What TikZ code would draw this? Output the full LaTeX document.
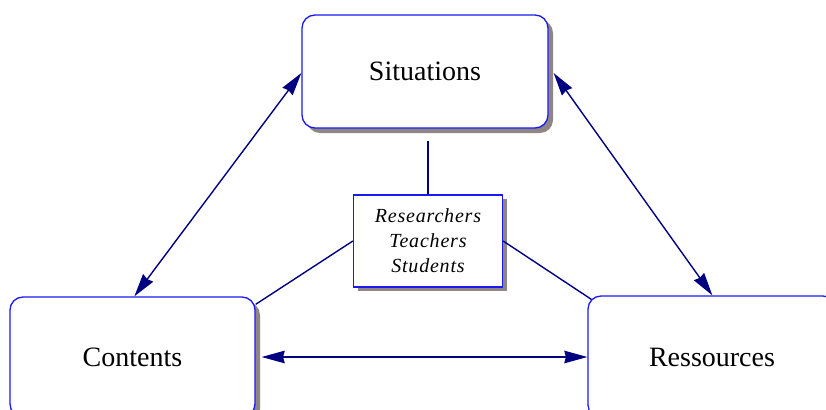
\documentclass[tikz,border=0pt]{standalone}
\usepackage{fontspec}
\setmainfont{Liberation Serif}
\usetikzlibrary{arrows.meta,shadows}
\definecolor{boxblue}{HTML}{1A1AF0}
\definecolor{linknavy}{HTML}{000080}
\definecolor{shadowgray}{HTML}{8E8585}
\tikzset{
  bigbox/.style={draw=boxblue, line width=1.3pt, fill=white, rounded corners=13pt,
    font=\fontsize{28}{31}\selectfont,
    drop shadow={shadow xshift=5pt, shadow yshift=-5pt, fill=shadowgray, opacity=1}},
  rolebox/.style={draw=boxblue, line width=1.3pt, fill=white, align=center,
    font=\fontsize{20}{25}\selectfont\itshape\addfontfeatures{LetterSpace=4},
    drop shadow={shadow xshift=4pt, shadow yshift=-4pt, fill=shadowgray, opacity=1}},
  link/.style={draw=linknavy, line width=1.4pt},
  twoway/.style={link, {Stealth[length=23pt,width=12.5pt,inset=1.5pt]}-{Stealth[length=23pt,width=12.5pt,inset=1.5pt]}}
}
\begin{document}
\begin{tikzpicture}[x=1pt,y=-1pt]
  \useasboundingbox (0,0) rectangle (826,409);
  % the three poles of the triangle
  \node[bigbox, minimum width=246pt, minimum height=113pt] (sit) at (425,71.5) {Situations};
  \node[bigbox, minimum width=245pt, minimum height=120pt] (cont) at (132.5,357) {Contents};
  \node[bigbox, minimum width=248pt, minimum height=122pt] (res) at (712,357) {Ressources};
  % the actors in the middle
  \node[rolebox, minimum width=149pt, minimum height=92pt, inner sep=0pt] (mid) at (428,241)
    {Researchers\\Teachers\\Students};
  % links between the actors and the poles
  \draw[link, shorten >=12pt] (mid.north) -- (mid.north |- sit.south);
  \draw[link] (mid.west) -- ([yshift=-8pt]cont.north east);
  \draw[link] (mid.east) -- ([xshift=4pt,yshift=-4pt]res.north west);
  % two-way relations between the poles
  \draw[twoway] ([yshift=-1.5pt]sit.west) -- ([xshift=125pt]cont.north west);
  \draw[twoway] ([xshift=5pt,yshift=-1.5pt]sit.east) -- ([xshift=125pt]res.north west);
  \draw[twoway] ([xshift=6pt]cont.east) -- (res.west);
\end{tikzpicture}
\end{document}
